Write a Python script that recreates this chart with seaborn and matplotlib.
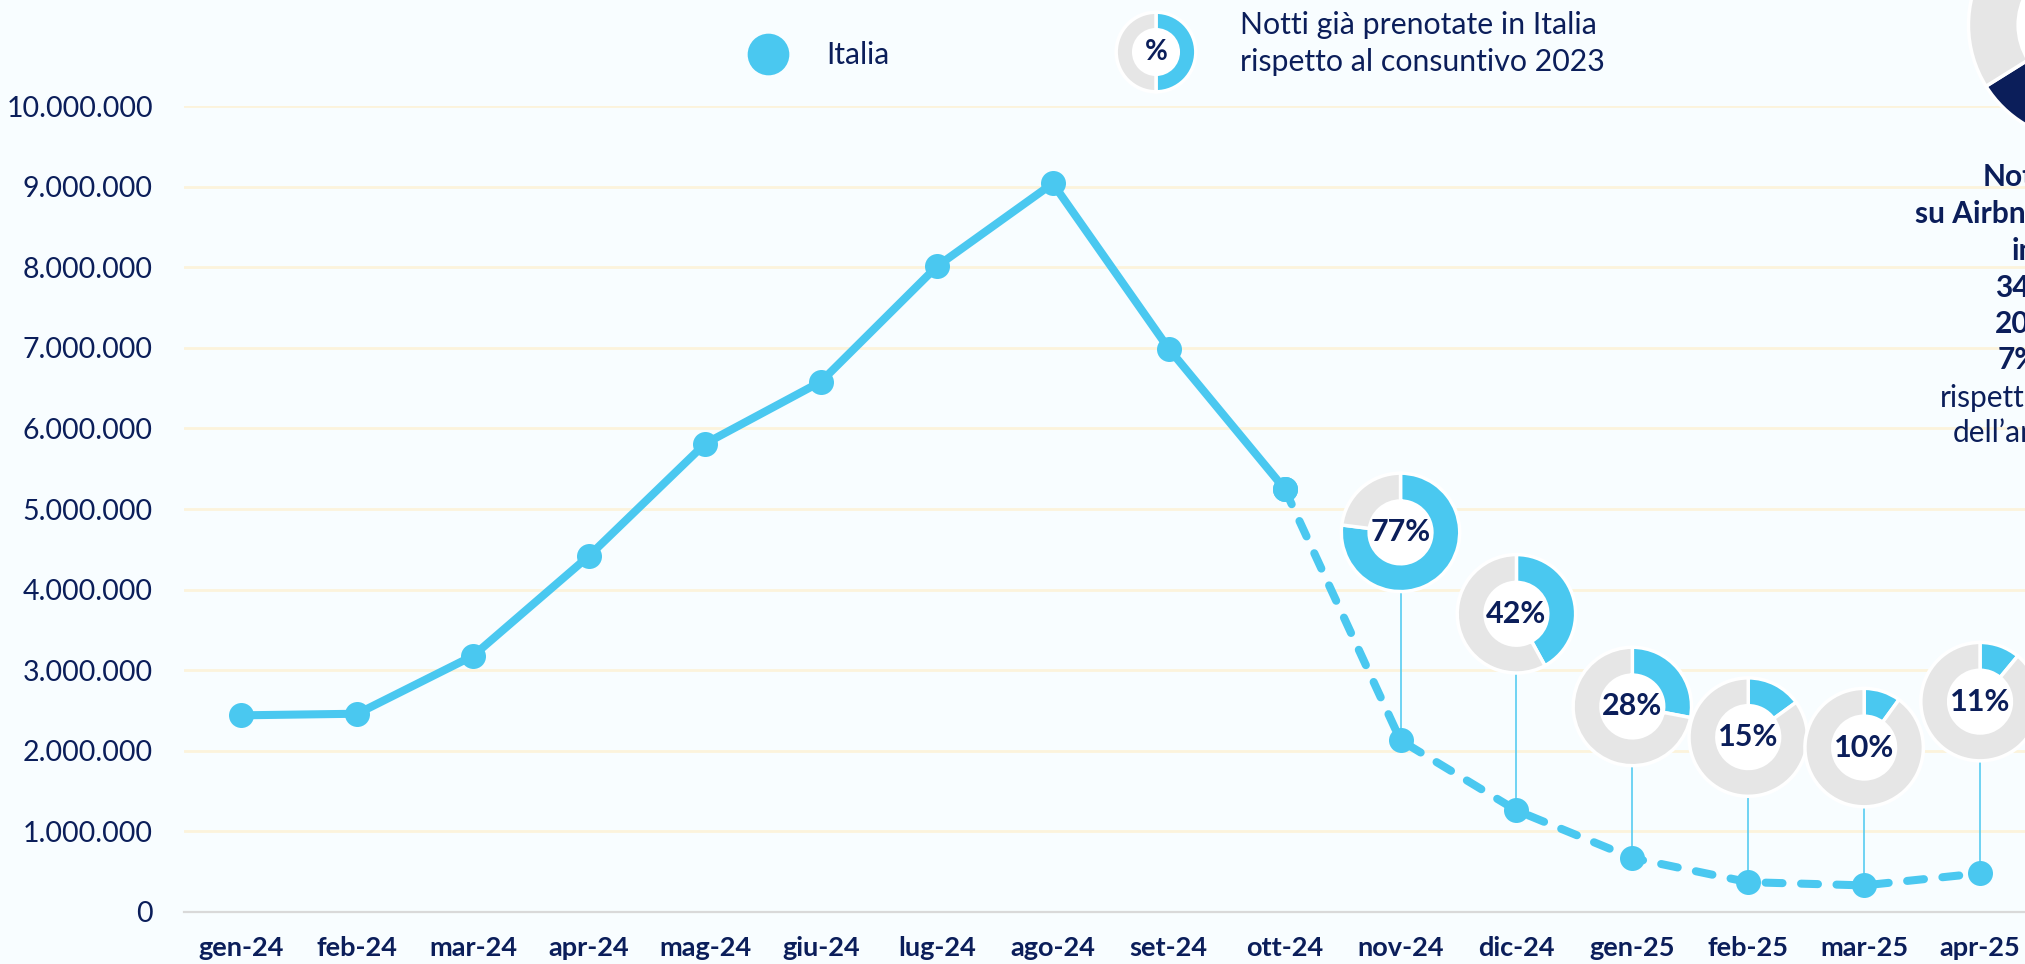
import matplotlib.pyplot as plt
from matplotlib.lines import Line2D
import seaborn as sns
import pandas as pd
import numpy as np

# DATI
mesi = ['gen-24', 'feb-24', 'mar-24', 'apr-24', 'mag-24', 'giu-24', 'lug-24', 'ago-24',
        'set-24', 'ott-24', 'nov-24', 'dic-24', 'gen-25', 'feb-25', 'mar-25', 'apr-25']
notti_italia = [2440000, 2460000, 3180000, 4420000, 5810000, 6580000, 8010000, 9040000,
                6990000, 5250000, 2130000, 1260000, 670000, 370000, 330000, 480000]
ultimo_consuntivo = 'ott-24'  # da qui in poi linea tratteggiata

mesi_pct = ['nov-24', 'dic-24', 'gen-25', 'feb-25', 'mar-25', 'apr-25']
pct_prenotate = [77, 42, 28, 15, 10, 11]
# altezza delle ciambelle sopra i punti (solo layout)
ciambelle_y = [4710000, 3700000, 2550000, 2170000, 2040000, 2610000]

yticks = np.arange(0, 10000001, 1000000)

# COLORI
BLU = '#4AC8F0'
NAVY = '#0B1E5A'
GRIGIO = '#E6E6E6'
SFONDO = '#F8FDFF'
GRIGLIA = '#FCF3DC'

sns.set_theme(style='white')
plt.rcParams['font.family'] = ['Lato', 'DejaVu Sans']

W, H = 2025, 964
fig = plt.figure(figsize=(W / 100, H / 100), dpi=100, facecolor=SFONDO)
ax = fig.add_axes([183.5 / W, 52 / H, (2038 - 183.5) / W, 806 / H])
ax.set_facecolor(SFONDO)

df = pd.DataFrame({'pos': range(len(mesi)), 'mese': mesi, 'notti': notti_italia})
k = mesi.index(ultimo_consuntivo)
consuntivo = df.iloc[:k + 1]
previsione = df.iloc[k:]

sns.lineplot(data=consuntivo, x='pos', y='notti', ax=ax, color=BLU, linewidth=5.8,
             marker='o', markersize=18, markeredgewidth=0, solid_capstyle='round', zorder=3)
sns.lineplot(data=previsione, x='pos', y='notti', ax=ax, color=BLU, linewidth=5.8,
             marker='o', markersize=18, markeredgewidth=0, zorder=3)
linea_prev = ax.lines[-1]
linea_prev.set_dashes((2.1, 2.3))
linea_prev.set_dash_capstyle('round')

# stanghette verso le ciambelle
for m, yc in zip(mesi_pct, ciambelle_y):
    i = mesi.index(m)
    ax.plot([i, i], [notti_italia[i], yc], color=BLU, lw=1.1, zorder=1)

ax.set_xlim(-0.5, len(mesi) - 0.5)
ax.set_ylim(0, 10000000)
ax.set_xticks(range(len(mesi)))
ax.set_xticklabels(mesi, fontweight='bold', fontsize=19.5, color=NAVY)
ax.set_yticks(yticks)
ax.set_yticklabels([f'{v:,.0f}'.replace(',', '.') for v in yticks], fontsize=20.5, color=NAVY)
ax.tick_params(axis='x', length=0, pad=17)
ax.tick_params(axis='y', length=0, pad=22)
ax.set_xlabel('')
ax.set_ylabel('')
ax.grid(axis='y', color=GRIGLIA, lw=2)
ax.grid(axis='x', visible=False)
for s in ['left', 'top', 'right']:
    ax.spines[s].set_visible(False)
ax.spines['bottom'].set_color('#D9D9D9')
ax.spines['bottom'].set_linewidth(1.6)


def ciambella(dax, valori, colori, testo, fs, start=90, orario=True, larghezza=0.47):
    dax.pie(valori, colors=colori, startangle=start, counterclock=not orario,
            wedgeprops=dict(width=larghezza, edgecolor='white', linewidth=2.5))
    dax.add_patch(plt.Circle((0, 0), 1 - larghezza, color='white', zorder=0.5))
    if testo:
        dax.text(0, 0, testo, ha='center', va='center', fontweight='bold',
                 color=NAVY, fontsize=fs)
    dax.set_xlim(-1.03, 1.03)
    dax.set_ylim(-1.03, 1.03)
    dax.axis('off')


# CIAMBELLE
R = 61
for m, p, yc in zip(mesi_pct, pct_prenotate, ciambelle_y):
    px, py = ax.transData.transform((mesi.index(m), yc))
    dax = fig.add_axes([(px - R) / W, (py - R) / H, 2 * R / W, 2 * R / H])
    ciambella(dax, [p, 100 - p], [BLU, GRIGIO], f'{p}%', 22)

# LEGENDA
fig.add_artist(Line2D([768 / W], [1 - 54 / H], marker='o', markersize=30, color=BLU,
                      markeredgewidth=0, transform=fig.transFigure))
fig.text(826 / W, 1 - 55 / H, 'Italia', va='center', fontsize=21.5, color=NAVY)
RL = 41
lax = fig.add_axes([(1156 - RL) / W, (H - 52 - RL) / H, 2 * RL / W, 2 * RL / H])
ciambella(lax, [50, 50], [BLU, GRIGIO], '%', 20, larghezza=0.44)
fig.text(1240 / W, 1 - 25 / H, 'Notti già prenotate in Italia', va='center',
         fontsize=21.8, color=NAVY)
fig.text(1240 / W, 1 - 62 / H, 'rispetto al consuntivo 2023', va='center',
         fontsize=21.8, color=NAVY)

# ciambella grande in alto a destra (tagliata dal bordo)
RB = 119
bax = fig.add_axes([(2084 - RB) / W, (H - 25 - RB) / H, 2 * RB / W, 2 * RB / H])
ciambella(bax, [30, 70], [NAVY, GRIGIO], '', 0, start=212, orario=False, larghezza=0.43)

# testo a destra (tagliato dal bordo)
testi_destra = [('Notti', 1983, 177, 'bold'), ('su Airbnb', 1915, 214, 'bold'),
                ('in', 2012, 251, 'bold'), ('34', 1995, 288, 'bold'),
                ('20', 1995, 324, 'bold'), ('7%', 1998, 360, 'bold'),
                ('rispetto', 1940, 398, 'normal'), ('dell’anno', 1953, 433, 'normal')]
for t, x, y, peso in testi_destra:
    fig.text(x / W, 1 - y / H, t, va='center', ha='left', fontsize=21.5,
             fontweight=peso, color=NAVY)

fig.savefig('out.png', dpi=100, facecolor=SFONDO)
